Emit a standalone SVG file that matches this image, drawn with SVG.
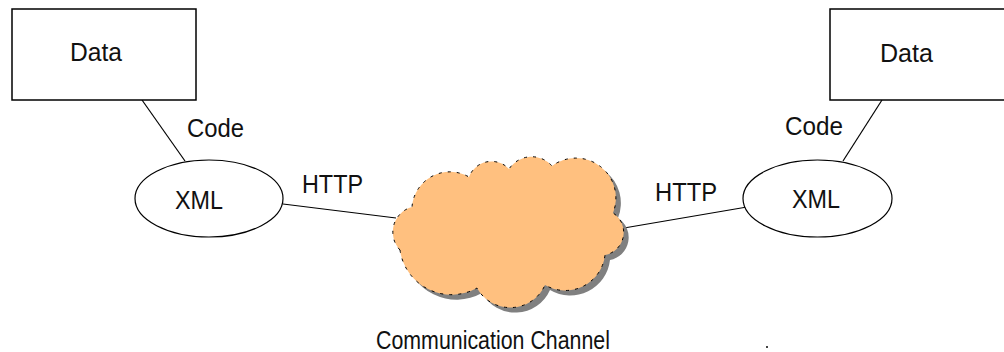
<svg xmlns="http://www.w3.org/2000/svg" width="1004" height="352" viewBox="0 0 1004 352">
  <style>
    .box { fill: #ffffff; stroke: #000000; stroke-width: 1.5; }
    .ell { fill: #ffffff; stroke: #000000; stroke-width: 1.2; }
    .lbl { font-family: "Liberation Sans", Arial, sans-serif; font-size: 25px; fill: #111111; }
    .conn { stroke: #000000; stroke-width: 1.2; fill: none; }
    .cloud { fill: #FFC07F; stroke: #000000; stroke-width: 1; stroke-dasharray: 3 6; }
    .shadow { fill: #808080; }
  </style>
  <defs>
    <path id="cloudShape" d="M400,250 A26,26 0 0 1 412,207 A38,38 0 0 1 469,177 A24,24 0 0 1 509,169 A27,27 0 0 1 552,166 A40,40 0 0 1 613,213 A23,23 0 0 1 605,255 A40,40 0 0 1 545,285 A38,38 0 0 1 477,288 A52,52 0 0 1 400,250 Z"/>
  </defs>

  <g id="connectors">
    <line class="conn" x1="142" y1="100" x2="185" y2="161"/>
    <line class="conn" x1="882" y1="100" x2="843" y2="161"/>
    <line class="conn" x1="283" y1="204" x2="396" y2="218"/>
    <line class="conn" x1="624" y1="228" x2="747" y2="207"/>
  </g>

  <g id="data-left">
    <rect class="box" x="12" y="9" width="184" height="91"/>
    <text class="lbl" x="70" y="61" textLength="52" lengthAdjust="spacingAndGlyphs">Data</text>
  </g>
  <g id="data-right">
    <rect class="box" x="830" y="9" width="184" height="91"/>
    <text class="lbl" x="880" y="62" textLength="53" lengthAdjust="spacingAndGlyphs">Data</text>
  </g>

  <g id="xml-left">
    <ellipse class="ell" cx="209" cy="198.5" rx="74" ry="38.5"/>
    <text class="lbl" x="175" y="209" textLength="48" lengthAdjust="spacingAndGlyphs">XML</text>
  </g>
  <g id="xml-right">
    <ellipse class="ell" cx="817.5" cy="198.5" rx="74.5" ry="38.5"/>
    <text class="lbl" x="792" y="208" textLength="48" lengthAdjust="spacingAndGlyphs">XML</text>
  </g>

  <g id="channel">
    <use href="#cloudShape" class="shadow" transform="translate(5,5)"/>
    <use href="#cloudShape" class="cloud"/>
    <text class="lbl" x="376" y="349" textLength="234" lengthAdjust="spacingAndGlyphs">Communication Channel</text>
  </g>

  <g id="labels">
    <text class="lbl" x="187" y="137" textLength="57" lengthAdjust="spacingAndGlyphs">Code</text>
    <text class="lbl" x="785" y="135" textLength="58" lengthAdjust="spacingAndGlyphs">Code</text>
    <text class="lbl" x="302" y="193" textLength="61" lengthAdjust="spacingAndGlyphs">HTTP</text>
    <text class="lbl" x="655" y="201" textLength="62" lengthAdjust="spacingAndGlyphs">HTTP</text>
  </g>

  <rect x="766" y="346" width="2" height="2" fill="#444444"/>
</svg>
